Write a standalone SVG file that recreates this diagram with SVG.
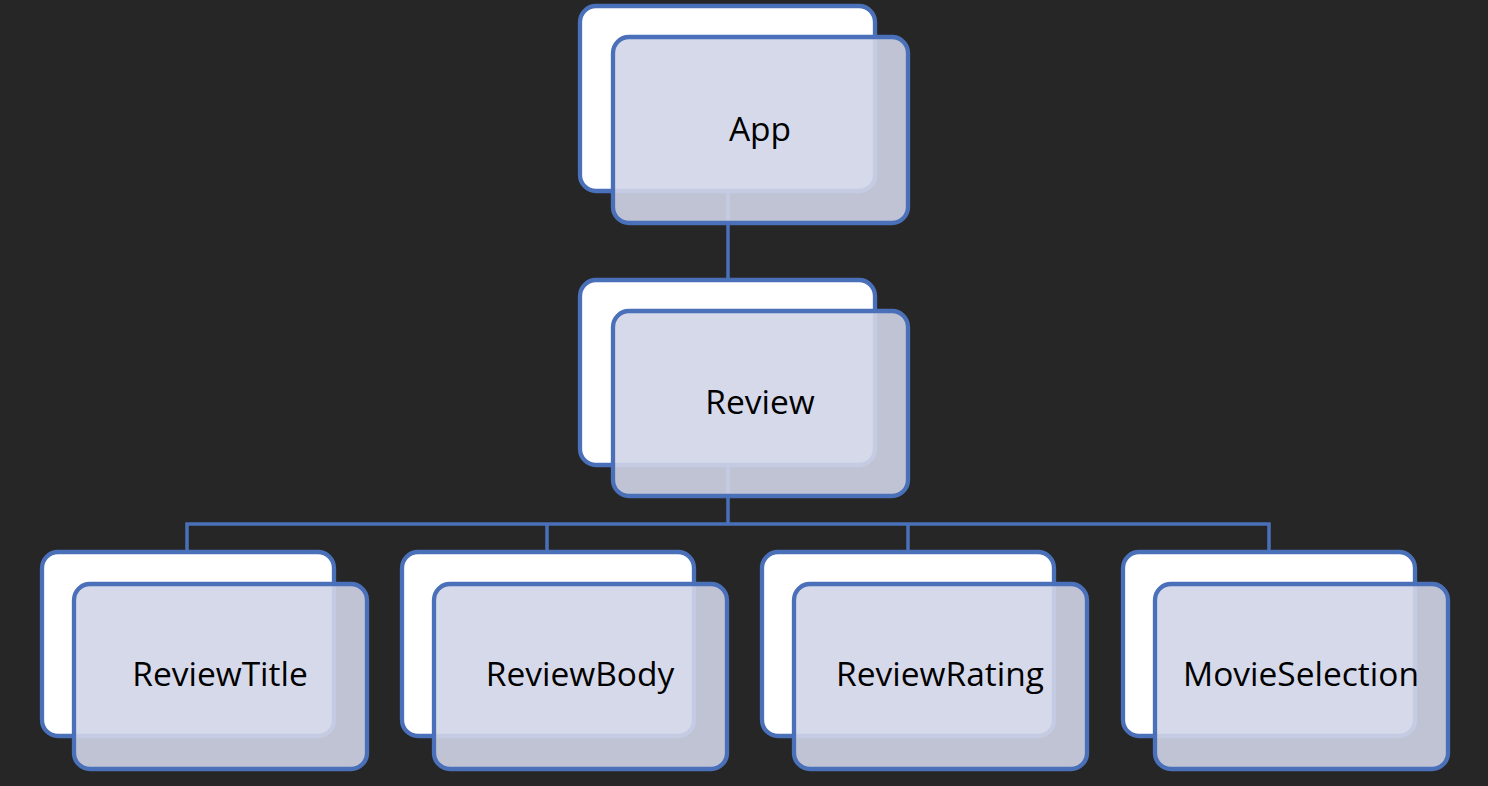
<svg xmlns="http://www.w3.org/2000/svg" width="1488" height="786" viewBox="0 0 1488 786">
<style>
.back{fill:#ffffff;stroke:#4a70b9;stroke-width:4.3}
.front{fill:#d1d5e8;fill-opacity:0.9;stroke:#4a70b9;stroke-width:4.3}
.conn{fill:none;stroke:#4a70b9;stroke-width:3.5}
.lbl{font-family:"Open Sans","Noto Sans",sans-serif;font-size:33.5px;fill:#000000;text-anchor:middle}
</style>
<rect x="0" y="0" width="1488" height="786" fill="#262626"/>
<g id="backs">
<rect class="back" x="580" y="6" width="295" height="185" rx="16"/>
<rect class="back" x="580" y="280" width="295" height="185" rx="16"/>
<rect class="back" x="42" y="552" width="292" height="184" rx="16"/>
<rect class="back" x="402" y="552" width="292" height="184" rx="16"/>
<rect class="back" x="762" y="552" width="292" height="184" rx="16"/>
<rect class="back" x="1123" y="552" width="292" height="184" rx="16"/>
</g>
<g id="connectors">
<path class="conn" d="M728,191 V280"/>
<path class="conn" d="M728,465 V524 M187,552 V524 H1269 V552 M547,524 V552 M908,524 V552"/>
</g>
<g id="node-app">
<rect class="front" x="613" y="37" width="295" height="186" rx="16"/>
<text class="lbl" x="760" y="141">App</text>
</g>
<g id="node-review">
<rect class="front" x="613" y="311" width="295" height="185" rx="16"/>
<text class="lbl" x="760" y="414">Review</text>
</g>
<g id="node-reviewtitle">
<rect class="front" x="74" y="584" width="293" height="185" rx="16"/>
<text class="lbl" x="220" y="686">ReviewTitle</text>
</g>
<g id="node-reviewbody">
<rect class="front" x="434" y="584" width="293" height="185" rx="16"/>
<text class="lbl" x="580" y="686">ReviewBody</text>
</g>
<g id="node-reviewrating">
<rect class="front" x="794" y="584" width="293" height="185" rx="16"/>
<text class="lbl" x="940" y="686">ReviewRating</text>
</g>
<g id="node-movieselection">
<rect class="front" x="1155" y="584" width="293" height="185" rx="16"/>
<text class="lbl" x="1301" y="686">MovieSelection</text>
</g>
</svg>
